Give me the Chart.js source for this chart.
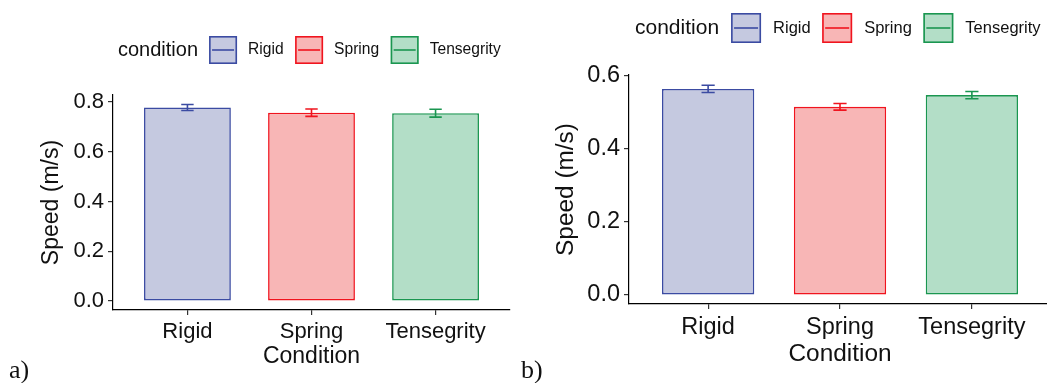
<!DOCTYPE html>
<html>
<head>
<meta charset="utf-8">
<script src="https://cdn.jsdelivr.net/npm/chart.js@4.4.1/dist/chart.umd.min.js"></script>
<style>
  html, body { margin: 0; padding: 0; background: #fff; }
  #wrap { position: relative; width: 1047px; height: 383px; overflow: hidden; background: #fff; }
  .panel { position: absolute; top: 0; height: 383px; overflow: hidden; }
</style>
</head>
<body>
<div id="wrap">
  <div class="panel" style="left:0;width:520px;"><canvas id="ca" width="520" height="383"></canvas></div>
  <div class="panel" style="left:520px;width:527px;"><canvas id="cb" width="531" height="383"></canvas></div>
</div>
<script>
// ---- data ----
const categories = ['Rigid', 'Spring', 'Tensegrity'];
const speedA = [0.778, 0.757, 0.755];
const errA   = [0.012, 0.015, 0.016];
const speedB = [0.564, 0.515, 0.547];
const errB   = [0.010, 0.009, 0.010];
const yTicksA = [0, 0.2, 0.4, 0.6, 0.8];
const yTicksB = [0, 0.2, 0.4, 0.6];
const yRangeA = [-0.036, 0.828];
const yRangeB = [-0.0246, 0.602];
const xRange = [0.4, 3.6];
const legendTitle = 'condition';
const yTitle = 'Speed (m/s)';
const xTitle = 'Condition';

// ---- styles ----
const fills   = ['#c5c9e0', '#f8b6b6', '#b3dec7'];
const strokes = ['#3b4ba2', '#f0141e', '#1a9650'];
const SANS = '"Liberation Sans", Arial, Helvetica, sans-serif';
const SERIF = '"Liberation Serif", "DejaVu Serif", serif';

function makeChart(id, speeds, errs, yTicks, yRange, L) {
  const canvas = document.getElementById(id);
  const W = canvas.width, H = canvas.height;

  const overlay = {
    id: 'overlay_' + id,
    afterDatasetsDraw(chart) {
      const ctx = chart.ctx, xs = chart.scales.x, ys = chart.scales.y;
      ctx.save();
      ctx.lineWidth = 1.6;
      speeds.forEach((v, i) => {
        const x = xs.getPixelForValue(i + 1);
        const hw = (xs.getPixelForValue(i + 1 + 0.05) - xs.getPixelForValue(i + 1 - 0.05)) / 2;
        const yt = ys.getPixelForValue(v + errs[i]);
        const yb = ys.getPixelForValue(v - errs[i]);
        ctx.strokeStyle = strokes[i];
        ctx.beginPath();
        ctx.moveTo(x, yt); ctx.lineTo(x, yb);
        ctx.moveTo(x - hw, yt); ctx.lineTo(x + hw, yt);
        ctx.moveTo(x - hw, yb); ctx.lineTo(x + hw, yb);
        ctx.stroke();
      });
      ctx.restore();
    },
    afterDraw(chart) {
      const ctx = chart.ctx;
      ctx.save();
      ctx.textBaseline = 'middle';
      ctx.textAlign = 'left';
      ctx.fillStyle = '#111';
      // legend
      let x = L.legX;
      ctx.font = L.legTitleSize + 'px ' + SANS;
      ctx.fillText(legendTitle, x, L.legCy);
      x += ctx.measureText(legendTitle).width + L.legGap;
      ctx.font = L.legLabelSize + 'px ' + SANS;
      categories.forEach((c, i) => {
        const k = L.keySize, top = L.legCy - k / 2;
        ctx.fillStyle = fills[i];
        ctx.fillRect(x, top, k, k);
        ctx.strokeStyle = strokes[i];
        ctx.lineWidth = 1.6;
        ctx.strokeRect(x + 0.8, top + 0.8, k - 1.6, k - 1.6);
        ctx.beginPath();
        ctx.moveTo(x + 3, L.legCy); ctx.lineTo(x + k - 3, L.legCy);
        ctx.stroke();
        x += k + L.legGap;
        ctx.fillStyle = '#111';
        ctx.fillText(c, x, L.legCy);
        x += ctx.measureText(c).width + L.itemGap;
      });
      // panel tag
      ctx.textBaseline = 'alphabetic';
      ctx.font = L.tagSize + 'px ' + SERIF;
      ctx.fillStyle = '#111';
      ctx.fillText(L.tag, L.tagX, L.tagY);
      ctx.restore();
    }
  };

  return new Chart(canvas, {
    type: 'bar',
    data: {
      datasets: [{
        data: speeds.map((v, i) => ({ x: i + 1, y: v })),
        backgroundColor: fills,
        borderColor: strokes,
        borderWidth: 1.6,
        borderSkipped: false,
        barPercentage: 0.7,
        categoryPercentage: 1.0
      }]
    },
    options: {
      responsive: false,
      animation: false,
      devicePixelRatio: 1,
      layout: { padding: { top: L.top, right: W - L.right, left: 0, bottom: 0 } },
      plugins: { legend: { display: false }, tooltip: { enabled: false }, title: { display: false } },
      scales: {
        x: {
          type: 'linear',
          min: xRange[0], max: xRange[1],
          offset: false,
          afterBuildTicks: s => { s.ticks = categories.map((c, i) => ({ value: i + 1 })); },
          afterFit: s => { s.height = H - L.bottom; },
          ticks: {
            autoSkip: false, maxRotation: 0, minRotation: 0,
            color: '#111', padding: L.xTickPad,
            font: { family: SANS, size: L.tickSize },
            callback: v => categories[Math.round(v) - 1] || ''
          },
          grid: { drawOnChartArea: false, drawTicks: true, tickLength: 5, color: '#333', lineWidth: 1.2, offset: false },
          border: { display: true, color: '#000', width: 1.2 },
          title: { display: true, text: xTitle, color: '#111', font: { family: SANS, size: L.titleSize }, padding: { top: 0, bottom: L.xTitlePad } }
        },
        y: {
          min: yRange[0], max: yRange[1],
          afterBuildTicks: s => { s.ticks = yTicks.map(v => ({ value: v })); },
          afterFit: s => { s.width = L.left; },
          ticks: {
            color: '#111', padding: 4,
            font: { family: SANS, size: L.tickSize },
            callback: v => Number(v).toFixed(1)
          },
          grid: { drawOnChartArea: false, drawTicks: true, tickLength: 5, color: '#333', lineWidth: 1.2 },
          border: { display: true, color: '#000', width: 1.2 },
          title: { display: true, text: yTitle, color: '#111', font: { family: SANS, size: L.titleSize }, padding: { top: L.yTitlePad, bottom: 0 } }
        }
      }
    },
    plugins: [overlay]
  });
}

makeChart('ca', speedA, errA, yTicksA, yRangeA, {
  left: 113, right: 510, top: 95, bottom: 310,
  tickSize: 22, titleSize: 23, xTickPad: 4, xTitlePad: 13, yTitlePad: 38,
  legX: 118, legCy: 50, legTitleSize: 20, legLabelSize: 15.6, keySize: 28, legGap: 11, itemGap: 11.5,
  tag: 'a)', tagX: 9, tagY: 378, tagSize: 26
});
makeChart('cb', speedB, errB, yTicksB, yRangeB, {
  left: 109, right: 531, top: 75, bottom: 304,
  tickSize: 23.5, titleSize: 24.4, xTickPad: 4, xTitlePad: 14, yTitlePad: 32,
  legX: 115, legCy: 28, legTitleSize: 21, legLabelSize: 16.5, keySize: 30, legGap: 12, itemGap: 11.5,
  tag: 'b)', tagX: 1, tagY: 378, tagSize: 26
});
</script>
</body>
</html>
